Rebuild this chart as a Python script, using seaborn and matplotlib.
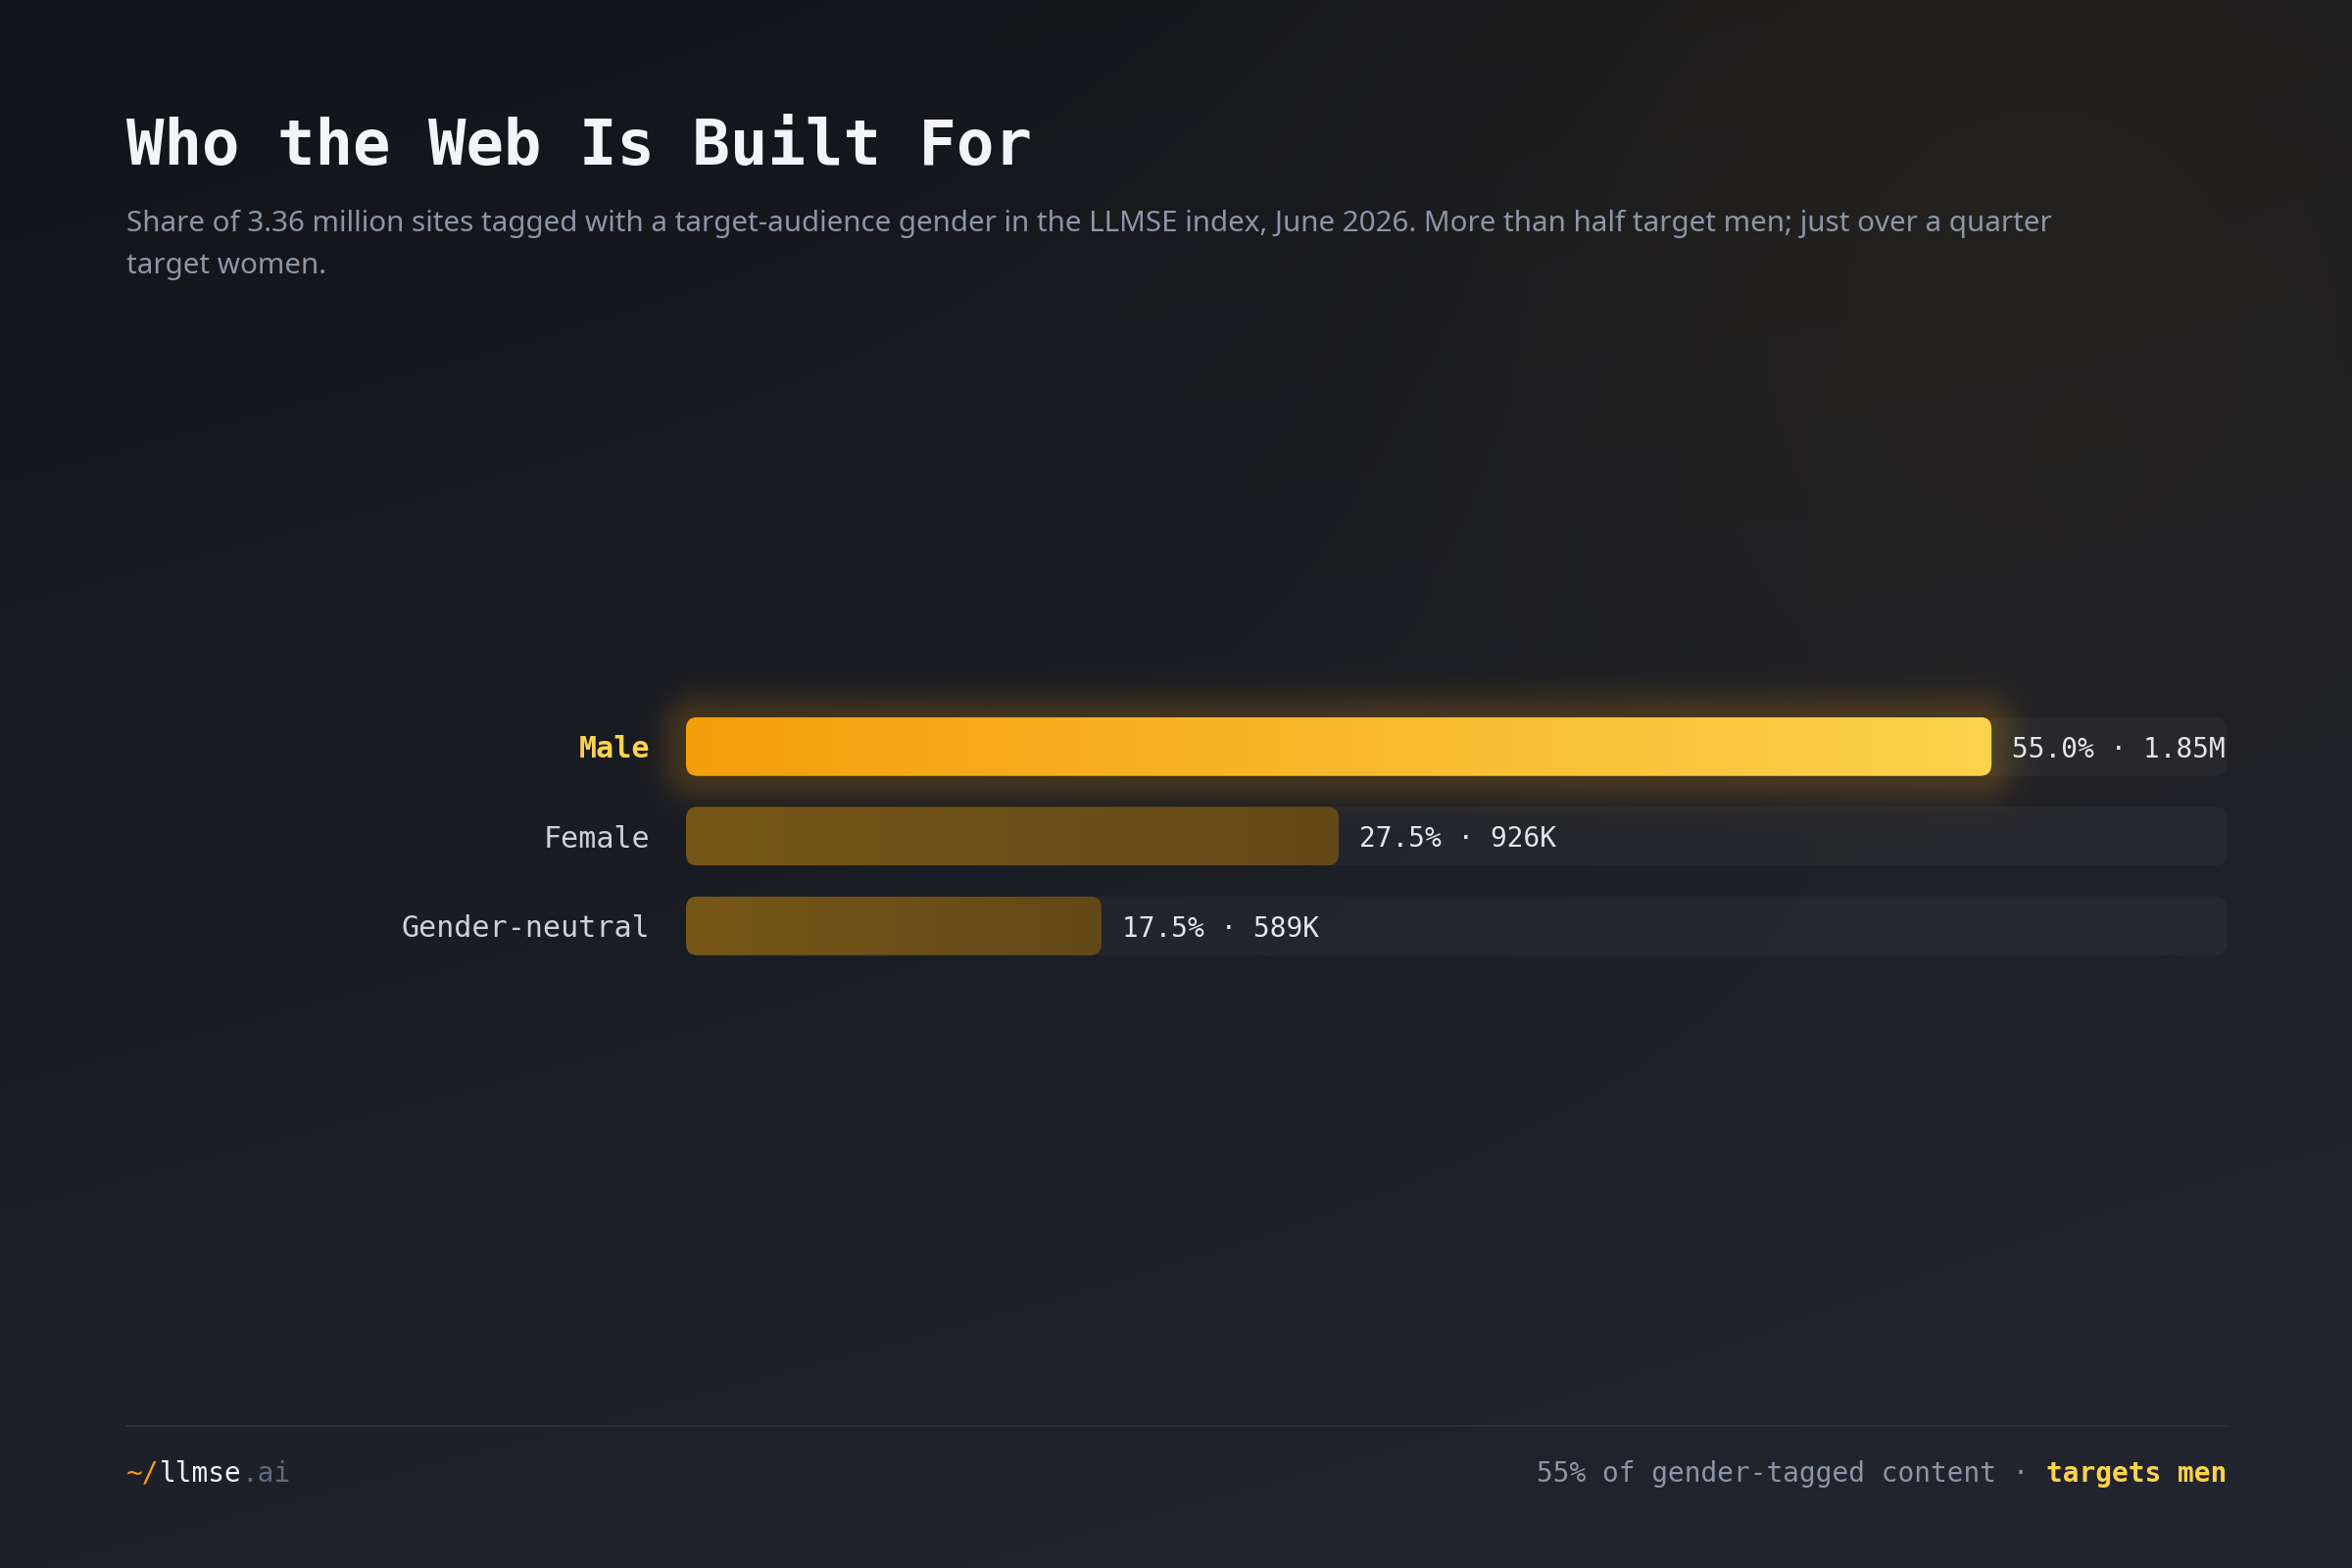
import numpy as np
import pandas as pd
import matplotlib
matplotlib.use("Agg")
import matplotlib.pyplot as plt
import seaborn as sns
from matplotlib.patches import FancyBboxPatch
from matplotlib.lines import Line2D
from matplotlib.colors import to_rgb

# ---------------- data ----------------
categories = ["Male", "Female", "Gender-neutral"]
share_pct = [55.0, 27.5, 17.5]
site_counts = ["1.85M", "926K", "589K"]
highlight = "Male"

title_text = "Who the Web Is Built For"
subtitle_lines = [
    "Share of 3.36 million sites tagged with a target-audience gender in the LLMSE index, June 2026. More than half target men; just over a quarter",
    "target women.",
]
brand_parts = ["~/", "llmse", ".ai"]
footer_note = "55% of gender-tagged content \u00b7"
footer_highlight = "targets men"

# ---------------- style ----------------
W, H, DPI = 2400, 1600, 200
PT = 72 / DPI  # points per pixel
BG_TL = np.array(to_rgb("#121419"))
BG_BR = np.array(to_rgb("#23262F"))
AMBER = "#F59E0B"
AMBER_LIGHT = "#FCD34D"
DIM_LEFT = "#775719"
DIM_RIGHT = "#634918"
TEXT = "#F3F4F8"
MUTED = "#8B96A8"
LABEL = "#CDD2DA"
VALUE = "#E3E6EB"
BRAND_WHITE = "#F1F2F5"
BRAND_DIM = "#5F6B80"
RULE = "#2B2F39"
MONO = "DejaVu Sans Mono"
SANS = "Noto Sans"

sns.set_theme(style="white")
plt.rcParams["font.family"] = [MONO, "DejaVu Sans"]

fig = plt.figure(figsize=(W / DPI, H / DPI), dpi=DPI)
bg_ax = fig.add_axes([0, 0, 1, 1], zorder=0)
bg_ax.set_axis_off()

# layout (pixels)
PLOT_L, PLOT_R = 700, 2272
ROW_TOP, ROW_PITCH, BAR_PX = 716, 91.5, 60
RAD = 12
n = len(categories)
ax = fig.add_axes([PLOT_L / W, 1 - (ROW_TOP + n * ROW_PITCH) / H,
                   (PLOT_R - PLOT_L) / W, n * ROW_PITCH / H], zorder=2)
ax.patch.set_alpha(0)

df = pd.DataFrame({"category": categories, "share": share_pct, "count": site_counts})
sns.barplot(data=df, x="share", y="category", order=categories, orient="h",
            width=BAR_PX / ROW_PITCH, color=AMBER, ax=ax, errorbar=None)

XMAX = 64.9
ax.set_xlim(0, XMAX)
ax.set_ylim(n - 0.5, -0.5)

xpp = XMAX / (PLOT_R - PLOT_L)
ypp = 1.0 / ROW_PITCH
aspect = ypp / xpp
style = f"round,pad=0,rounding_size={RAD * xpp}"

bars = list(ax.patches)
bar_geo = []
for p in bars:
    bar_geo.append((p.get_x(), p.get_y(), p.get_width(), p.get_height()))
    p.set_visible(False)

for i, (x0, y0, w, h) in enumerate(bar_geo):
    cat = categories[i]
    # track
    track = FancyBboxPatch((0, y0), XMAX, h, boxstyle=style, mutation_aspect=aspect,
                           fc=(1, 1, 1, 0.035), ec="none", zorder=1, clip_on=False)
    ax.add_patch(track)
    # bar
    shape = FancyBboxPatch((x0, y0), w, h, boxstyle=style, mutation_aspect=aspect,
                           fc="none", ec="none", zorder=3, clip_on=False)
    ax.add_patch(shape)
    if cat == highlight:
        c0, c1 = np.array(to_rgb(AMBER)), np.array(to_rgb(AMBER_LIGHT))
    else:
        c0, c1 = np.array(to_rgb(DIM_LEFT)), np.array(to_rgb(DIM_RIGHT))
    tt = np.linspace(0, 1, 2048)[None, :, None]
    grad = c0[None, None, :] * (1 - tt) + c1[None, None, :] * tt
    grad = np.repeat(grad, 4, axis=0)
    im = ax.imshow(grad, extent=[x0, x0 + w, y0 + h, y0], aspect="auto",
                   interpolation="antialiased", zorder=3)
    im.set_clip_path(shape)
    # value label
    ax.annotate(f"{share_pct[i]:.1f}% \u00b7 {site_counts[i]}", xy=(x0 + w, y0 + h / 2),
                xytext=(21 * PT, 0), textcoords="offset points", ha="left",
                va="center_baseline", color=VALUE, fontsize=10, family=MONO, zorder=4)

ax.set_xlim(0, XMAX)
ax.set_ylim(n - 0.5, -0.5)
ax.set_xlabel("")
ax.set_ylabel("")
ax.set_xticks([])
ax.set_yticks(range(n))
ax.set_yticklabels(categories)
ax.tick_params(axis="y", length=0, pad=(PLOT_L - 663) * PT, labelsize=10.8)
for lab in ax.get_yticklabels():
    lab.set_family(MONO)
    if lab.get_text() == highlight:
        lab.set_color(AMBER_LIGHT)
        lab.set_fontweight("bold")
    else:
        lab.set_color(LABEL)
for s in ax.spines.values():
    s.set_visible(False)

# ---------------- background + glow ----------------
yy, xx = np.mgrid[0:H, 0:W].astype(float)
t = np.clip(0.72 * yy / H + 0.28 * xx / W, 0, 1)[..., None]
img = BG_TL * (1 - t) + BG_BR * t
amber = np.array(to_rgb(AMBER))
# warm ambient glow top-right
r2 = ((xx - 2050) ** 2 + (yy - 180) ** 2) / (650 ** 2)
a = (0.055 * np.exp(-r2))[..., None]
img = img * (1 - a) + amber * a
# glow around highlighted bar
hi = categories.index(highlight)
x0, y0, w, h = bar_geo[hi]
(dx0, dy0), (dx1, dy1) = ax.transData.transform([[x0, y0], [x0 + w, y0 + h]])
px0, px1 = min(dx0, dx1), max(dx0, dx1)
py0, py1 = H - max(dy0, dy1), H - min(dy0, dy1)
cx, cy = (px0 + px1) / 2, (py0 + py1) / 2
bx, by = (px1 - px0) / 2, (py1 - py0) / 2
qx = np.abs(xx - cx) - bx + RAD
qy = np.abs(yy - cy) - by + RAD
d = np.hypot(np.maximum(qx, 0), np.maximum(qy, 0)) + np.minimum(np.maximum(qx, qy), 0) - RAD
d = np.maximum(d, 0)
a = (0.18 * np.exp(-(d ** 2) / (2 * 18 ** 2)))[..., None]
img = img * (1 - a) + amber * a
bg_ax.imshow(np.clip(img, 0, 1), extent=[0, W, H, 0], aspect="auto", interpolation="nearest")
bg_ax.set_xlim(0, W)
bg_ax.set_ylim(H, 0)

# ---------------- texts ----------------
LEFT = 129
fig.text(LEFT / W, 1 - 168 / H, title_text, ha="left", va="baseline", color=TEXT,
         fontsize=23, fontweight="bold", family=MONO)
renderer = fig.canvas.get_renderer()
sub_fs = 10.8
s1 = fig.text(LEFT / W, 1 - 236 / H, subtitle_lines[0], ha="left", va="baseline",
              color=MUTED, fontsize=sub_fs, family=[SANS, "DejaVu Sans"])
s2 = fig.text(LEFT / W, 1 - 279 / H, subtitle_lines[1], ha="left", va="baseline",
              color=MUTED, fontsize=sub_fs, family=[SANS, "DejaVu Sans"])
wpx = s1.get_window_extent(renderer).width
fit = (2092 - LEFT) / wpx
s1.set_fontsize(sub_fs * fit)
s2.set_fontsize(sub_fs * fit)

# footer rule
fig.add_artist(Line2D([LEFT / W, PLOT_R / W], [1 - 1455 / H] * 2, transform=fig.transFigure,
                      color=RULE, lw=2 * PT))
# brand
FOOT_Y = 1 - 1512 / H
t0 = fig.text(LEFT / W, FOOT_Y, brand_parts[0], ha="left", va="baseline",
              color=AMBER, fontsize=10, family=MONO)
t1 = bg_ax.annotate(brand_parts[1], xy=(1, 0), xycoords=t0, ha="left", va="bottom",
                    color=BRAND_WHITE, fontsize=10, family=MONO)
t2 = bg_ax.annotate(brand_parts[2], xy=(1, 0), xycoords=t1, ha="left", va="bottom",
                    color=BRAND_DIM, fontsize=10, family=MONO)
# right footer
th = fig.text(PLOT_R / W, FOOT_Y, footer_highlight, ha="right", va="baseline",
              color=AMBER_LIGHT, fontsize=10, fontweight="bold", family=MONO)
bg_ax.annotate(footer_note, xy=(0, 0), xycoords=th, xytext=(-16.8 * PT, 0),
               textcoords="offset points", ha="right", va="bottom",
               color=MUTED, fontsize=10, family=MONO)

fig.savefig("out.png", dpi=DPI)
